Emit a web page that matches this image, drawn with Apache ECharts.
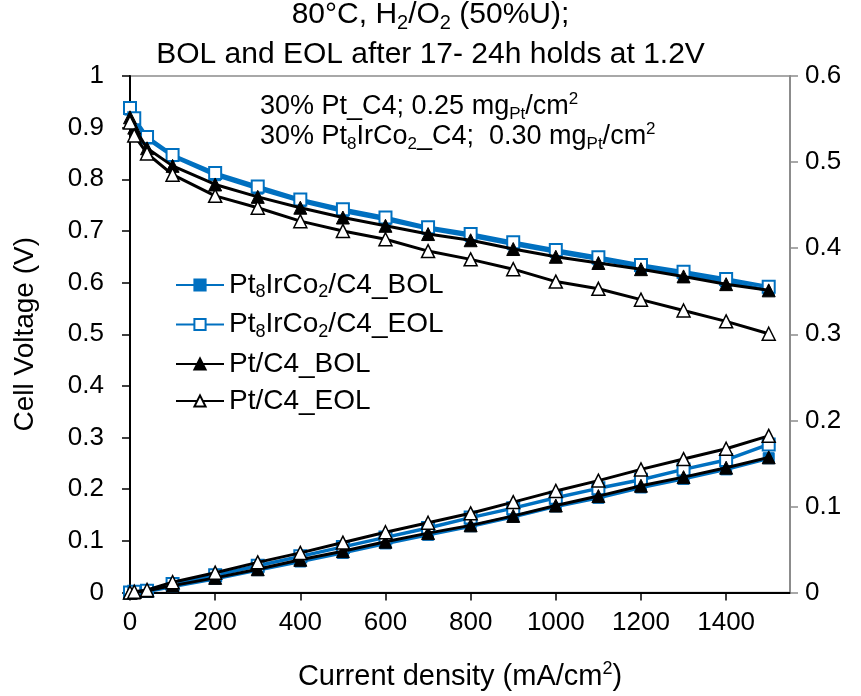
<!DOCTYPE html>
<html><head><meta charset="utf-8">
<script src="https://cdn.jsdelivr.net/npm/echarts@6/dist/echarts.min.js"></script>
<style>html,body{margin:0;padding:0;background:#fff}#c{width:861px;height:696px}</style>
</head><body><div id="c"></div>
<script>
// Current density (mA/cm2)
const currents = [0, 10, 40, 100, 200, 300, 400, 500, 600, 700, 800, 900, 1000, 1100, 1200, 1300, 1400, 1500];
// Cell voltage (V), left axis
const ptIrCoBOL = [0.935, 0.915, 0.879, 0.845, 0.808, 0.782, 0.758, 0.738, 0.722, 0.704, 0.690, 0.674, 0.659, 0.645, 0.630, 0.617, 0.602, 0.585];
const ptIrCoEOL = [0.938, 0.918, 0.882, 0.847, 0.812, 0.786, 0.761, 0.742, 0.726, 0.707, 0.694, 0.678, 0.663, 0.649, 0.634, 0.621, 0.607, 0.592];
const ptBOL     = [0.920, 0.900, 0.860, 0.826, 0.790, 0.766, 0.745, 0.726, 0.710, 0.694, 0.682, 0.665, 0.650, 0.638, 0.626, 0.612, 0.597, 0.585];
const ptEOL     = [0.910, 0.885, 0.850, 0.809, 0.768, 0.745, 0.719, 0.700, 0.684, 0.661, 0.645, 0.626, 0.602, 0.588, 0.567, 0.546, 0.525, 0.501];
// Lower curves, right axis (V)
const ptIrCoBOLr = [0.000, 0.000, 0.001, 0.007, 0.016, 0.026, 0.036, 0.046, 0.057, 0.067, 0.077, 0.088, 0.100, 0.110, 0.122, 0.132, 0.143, 0.156];
const ptIrCoEOLr = [0.000, 0.001, 0.002, 0.010, 0.020, 0.031, 0.042, 0.053, 0.064, 0.075, 0.087, 0.098, 0.110, 0.121, 0.131, 0.143, 0.154, 0.172];
const ptBOLr     = [0.000, 0.000, 0.002, 0.008, 0.017, 0.027, 0.038, 0.048, 0.059, 0.069, 0.078, 0.089, 0.101, 0.112, 0.124, 0.134, 0.145, 0.157];
const ptEOLr     = [0.000, 0.001, 0.003, 0.012, 0.023, 0.035, 0.046, 0.058, 0.070, 0.081, 0.092, 0.105, 0.118, 0.130, 0.143, 0.155, 0.167, 0.182];
const xTicks = [0, 200, 400, 600, 800, 1000, 1200, 1400];
const leftTicks = [0, 0.1, 0.2, 0.3, 0.4, 0.5, 0.6, 0.7, 0.8, 0.9, 1];
const rightTicks = [0, 0.1, 0.2, 0.3, 0.4, 0.5, 0.6];
const names = ['Pt8IrCo2/C4_BOL', 'Pt8IrCo2/C4_EOL', 'Pt/C4_BOL', 'Pt/C4_EOL'];

const BLUE = '#0070C0';
const FONT = 'Liberation Sans, Arial, sans-serif';
const pairs = a => currents.map((x, i) => [x, a[i]]);
const pick = list => v => { const t = list.find(x => Math.abs(x - v) < 1e-6); return t === undefined ? '' : String(t); };

const styles = [
  {symbol: 'rect', symbolSize: 11, color: BLUE, itemStyle: {color: BLUE, borderColor: BLUE, borderWidth: 1}},
  {symbol: 'rect', symbolSize: 12, color: BLUE, itemStyle: {color: '#fff', borderColor: BLUE, borderWidth: 2}},
  {symbol: 'triangle', symbolSize: 13, color: '#000', itemStyle: {color: '#000', borderColor: '#000', borderWidth: 1}},
  {symbol: 'triangle', symbolSize: 13, color: '#000', itemStyle: {color: '#fff', borderColor: '#000', borderWidth: 1.5}}
];
const upper = [ptIrCoBOL, ptIrCoEOL, ptBOL, ptEOL];
const lower = [ptIrCoBOLr, ptIrCoEOLr, ptBOLr, ptEOLr];
const series = [];
[0, 1, 2, 3].forEach(i => {
  const s = styles[i];
  const base = {
    type: 'line', name: names[i], symbol: s.symbol, symbolSize: s.symbolSize,
    showAllSymbol: true, animation: false, z: 2 + i,
    lineStyle: {color: s.color, width: i < 2 ? 3.5 : 3},
    itemStyle: s.itemStyle
  };
  series.push(Object.assign({}, base, {yAxisIndex: 0, data: pairs(upper[i])}));
  series.push(Object.assign({}, base, {yAxisIndex: 1, data: pairs(lower[i])}));
});

const legendLabel = n => {
  if (n.startsWith('Pt8')) return '{n|Pt}{s|8}{n|IrCo}{s|2}{n|' + n.slice(8) + '}';
  return '{n|' + n + '}';
};

const chart = echarts.init(document.getElementById('c'), null, {renderer: 'canvas'});
chart.setOption({
  backgroundColor: '#fff',
  textStyle: {fontFamily: FONT},
  grid: {left: 130, right: 71, top: 76, bottom: 101, show: true, borderColor: '#8c8c8c', borderWidth: 1.5, backgroundColor: 'transparent'},
  legend: {
    data: names, orient: 'vertical', left: 170, top: 266, itemGap: 9,
    itemWidth: 48, itemHeight: 14, selectedMode: false,
    formatter: legendLabel,
    textStyle: {fontFamily: FONT, color: '#000', rich: {
      n: {fontSize: 28, fontFamily: FONT, color: '#000', lineHeight: 33},
      s: {fontSize: 18, fontFamily: FONT, color: '#000', lineHeight: 33, verticalAlign: 'bottom', padding: [10, 0, 0, 0]}
    }}
  },
  xAxis: {
    type: 'value', min: 0, max: 1550, interval: 200,
    name: '{a|Current density (mA/cm}{p|2}{a|)}', nameLocation: 'middle', nameGap: 68,
    nameTextStyle: {rich: {
      a: {fontSize: 29, fontFamily: FONT, color: '#000', lineHeight: 32},
      p: {fontSize: 18, fontFamily: FONT, color: '#000', lineHeight: 32, verticalAlign: 'top', padding: [0, 0, 12, 0]}
    }},
    axisLine: {lineStyle: {color: '#000', width: 2}},
    axisTick: {show: true, inside: false, length: 8, lineStyle: {color: '#000', width: 1.5}},
    axisLabel: {fontSize: 26, color: '#000', margin: 17, fontFamily: FONT, showMaxLabel: false, formatter: pick(xTicks)},
    splitLine: {show: false}
  },
  yAxis: [{
    type: 'value', min: 0, max: 1, interval: 0.1, position: 'left',
    name: 'Cell Voltage (V)', nameLocation: 'middle', nameGap: 91,
    nameTextStyle: {fontSize: 28, color: '#000', fontFamily: FONT},
    axisLine: {show: true, lineStyle: {color: '#000', width: 2}},
    axisTick: {show: true, inside: false, length: 8, lineStyle: {color: '#000', width: 1.5}},
    axisLabel: {fontSize: 26, color: '#000', margin: 26, fontFamily: FONT, formatter: pick(leftTicks)},
    splitLine: {show: false}
  }, {
    type: 'value', min: 0, max: 0.6, interval: 0.1, position: 'right',
    axisLine: {show: true, lineStyle: {color: '#8c8c8c', width: 2}},
    axisTick: {show: true, inside: false, length: 8, lineStyle: {color: '#8c8c8c', width: 1.5}},
    axisLabel: {fontSize: 26, color: '#000', margin: 15, fontFamily: FONT, formatter: pick(rightTicks)},
    splitLine: {show: false}
  }],
  graphic: [
    {type: 'text', left: 'center', top: 0, style: {
      text: '{a|80°C, H}{s|2}{a|/O}{s|2}{a| (50%U);}', fill: '#000',
      rich: {a: {fontSize: 30, fontFamily: FONT, lineHeight: 36}, s: {fontSize: 20, fontFamily: FONT, lineHeight: 36, verticalAlign: 'bottom', padding: [11, 0, 0, 0]}}
    }},
    {type: 'text', left: 'center', top: 40, style: {
      text: 'BOL and EOL after 17- 24h holds at 1.2V', fill: '#000', font: '30px ' + FONT
    }},
    {type: 'text', left: 260, top: 91, style: {
      text: '{a|30% Pt_C4; 0.25 mg}{s|Pt}{a|/cm}{p|2}', fill: '#000',
      rich: {a: {fontSize: 27, fontFamily: FONT, lineHeight: 32}, s: {fontSize: 17, fontFamily: FONT, lineHeight: 32, verticalAlign: 'bottom', padding: [10, 0, 0, 0]},
             p: {fontSize: 17, fontFamily: FONT, lineHeight: 32, verticalAlign: 'top', padding: [0, 0, 10, 0]}}
    }},
    {type: 'text', left: 260, top: 121, style: {
      text: '{a|30% Pt}{s|8}{a|IrCo}{s|2}{a|_C4;  0.30 mg}{s|Pt}{a|/cm}{p|2}', fill: '#000',
      rich: {a: {fontSize: 27, fontFamily: FONT, lineHeight: 32}, s: {fontSize: 17, fontFamily: FONT, lineHeight: 32, verticalAlign: 'bottom', padding: [10, 0, 0, 0]},
             p: {fontSize: 17, fontFamily: FONT, lineHeight: 32, verticalAlign: 'top', padding: [0, 0, 10, 0]}}
    }}
  ],
  series: series
});
</script></body></html>
